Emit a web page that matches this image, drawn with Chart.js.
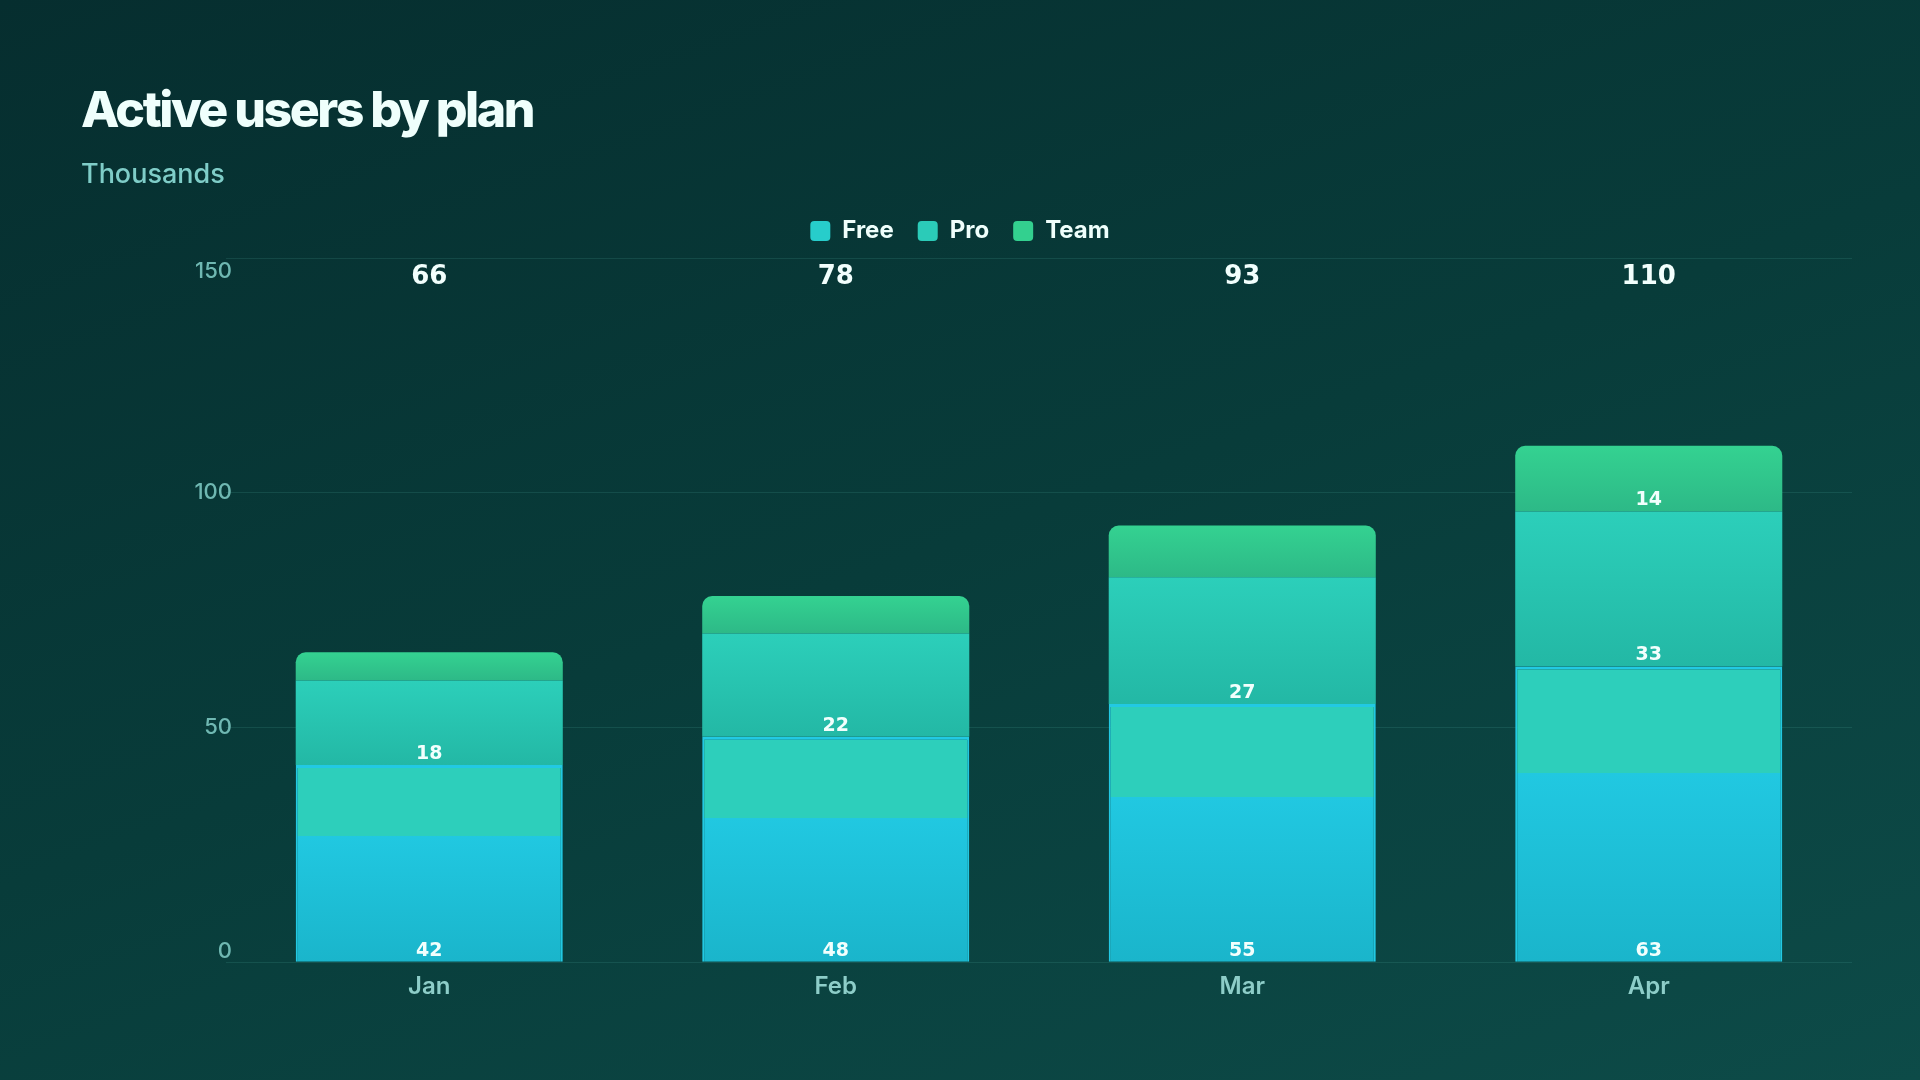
<!DOCTYPE html>
<html>
<head>
<meta charset="utf-8">
<title>Active users by plan</title>
<script src="https://cdn.jsdelivr.net/npm/chart.js@4.4.1/dist/chart.umd.min.js"></script>
<style>
  html, body { margin: 0; padding: 0; }
  body {
    width: 1920px;
    height: 1080px;
    overflow: hidden;
    position: relative;
    background: linear-gradient(160deg, #062e2f 0%, #083c3a 50%, #0d4b48 100%);
  }
  .wrap { position: absolute; left: 0; top: 0; width: 1920px; height: 1080px; }
  .title {
    position: absolute; left: 81px; top: 84px; margin: 0;
    font: 800 50px/1 Inter, sans-serif; color: #effffc; letter-spacing: -0.05em;
  }
  .subtitle {
    position: absolute; left: 81px; top: 160px; margin: 0;
    font: 500 27px/1 Inter, sans-serif; color: #7fcdc8;
  }
</style>
</head>
<body>
<div class="wrap"><canvas id="chart"></canvas></div>
<h1 class="title">Active users by plan</h1>
<div class="subtitle">Thousands</div>
<script>
const months = ["Jan", "Feb", "Mar", "Apr"];
const freeUsers = [42, 48, 55, 63];
const proUsers = [18, 22, 27, 33];
const teamUsers = [6, 8, 11, 14];
const yTicks = [0, 50, 100, 150];

const series = [freeUsers, proUsers, teamUsers];

function stackBase(dsIndex, i) {
  let base = 0;
  for (let d = 0; d < dsIndex; d++) base += series[d][i];
  return base;
}

// gradient runs from the bottom of each segment to its top
function segmentGradient(stops, legendColor) {
  return (ctx) => {
    if (ctx.type !== "data") return legendColor;
    const { chart, datasetIndex, dataIndex } = ctx;
    const y = chart.scales.y;
    if (!y || !chart.chartArea) return legendColor;
    const base = stackBase(datasetIndex, dataIndex);
    const bottom = y.getPixelForValue(base);
    const top = y.getPixelForValue(base + series[datasetIndex][dataIndex]);
    const g = chart.ctx.createLinearGradient(0, bottom, 0, top);
    stops.forEach(([at, color]) => g.addColorStop(at, color));
    return g;
  };
}

// a bit more room between legend and plot
const legendGap = {
  id: "legendGap",
  afterInit(chart) {
    const legend = chart.legend;
    if (!legend) return;
    const fit = legend.fit;
    legend.fit = function () {
      fit.call(this);
      this.height += 5;
    };
  },
};

// y labels, end ones pulled inside the plot
const yTickLabels = {
  id: "yTickLabels",
  afterDraw(chart) {
    const { ctx, chartArea, scales: { y } } = chart;
    ctx.save();
    ctx.font = "500 22px Inter";
    ctx.fillStyle = "#6fb8b2";
    ctx.textAlign = "right";
    ctx.textBaseline = "middle";
    yTicks.forEach((v, i) => {
      let py = y.getPixelForValue(v);
      if (i === 0) py -= 11;
      if (i === yTicks.length - 1) py += 13;
      ctx.fillText(String(v), chartArea.left + 6, py);
    });
    ctx.restore();
  },
};

// segment values + totals on top
const valueLabels = {
  id: "valueLabels",
  afterDatasetsDraw(chart) {
    const { ctx, chartArea } = chart;
    ctx.save();
    ctx.textAlign = "center";
    ctx.textBaseline = "middle";
    ctx.fillStyle = "#f2fffd";
    ctx.font = "bold 19px 'DejaVu Sans'";
    chart.data.datasets.forEach((ds, d) => {
      chart.getDatasetMeta(d).data.forEach((bar, i) => {
        if (bar.base - bar.y < 60) return; // too thin for a label
        ctx.fillText(String(ds.data[i]), bar.x, bar.base - 11);
      });
    });
    ctx.font = "bold 26px 'DejaVu Sans'";
    const topBars = chart.getDatasetMeta(chart.data.datasets.length - 1).data;
    months.forEach((m, i) => {
      const total = series.reduce((sum, arr) => sum + arr[i], 0);
      ctx.fillText(String(total), topBars[i].x, chartArea.top + 19);
    });
    ctx.restore();
  },
};

const legendColors = ["#27cdcb", "#2bcbb8", "#33d08f"];

new Chart(document.getElementById("chart"), {
  type: "bar",
  data: {
    labels: months,
    datasets: [
      {
        label: "Free",
        data: freeUsers,
        backgroundColor: segmentGradient(
          [[0, "#1ab5cb"], [0.64, "#21c8e1"], [0.64, "#2dcfbb"], [1, "#2dcfbb"]],
          legendColors[0]
        ),
        borderColor: "#22c9e3",
        borderWidth: { top: 3, left: 2, right: 2, bottom: 0 },
      },
      {
        label: "Pro",
        data: proUsers,
        backgroundColor: segmentGradient([[0, "#23b8a5"], [1, "#2ccfba"]], legendColors[1]),
        borderWidth: 0,
      },
      {
        label: "Team",
        data: teamUsers,
        backgroundColor: segmentGradient([[0, "#2db987"], [1, "#34d291"]], legendColors[2]),
        borderWidth: 0,
        borderRadius: { topLeft: 10, topRight: 10, bottomLeft: 0, bottomRight: 0 },
      },
    ],
  },
  options: {
    responsive: true,
    maintainAspectRatio: false,
    animation: false,
    layout: { padding: { top: 195, left: 68, right: 68, bottom: 69 } },
    datasets: { bar: { categoryPercentage: 0.657, barPercentage: 1 } },
    scales: {
      x: {
        stacked: true,
        grid: { display: false, drawTicks: false },
        border: { display: false },
        ticks: { color: "#8dcdc8", font: { family: "Inter", size: 24, weight: "600" }, padding: 10 },
      },
      y: {
        stacked: true,
        min: 0,
        max: 150,
        ticks: { stepSize: 50, display: false },
        grid: { color: "rgba(98, 200, 185, 0.14)", drawTicks: false },
        border: { display: false },
        afterFit(scale) {
          scale.width = 158; // room for the hand-drawn labels
        },
      },
    },
    plugins: {
      legend: {
        position: "top",
        labels: {
          color: "#effffc",
          font: { family: "Inter", size: 24, weight: "700" },
          boxWidth: 20,
          boxHeight: 20,
          padding: 24,
          useBorderRadius: true,
          borderRadius: 4,
          generateLabels(chart) {
            const items = Chart.defaults.plugins.legend.labels.generateLabels(chart);
            items.forEach((item, i) => {
              item.fillStyle = legendColors[i];
              item.lineWidth = 0;
              item.strokeStyle = "transparent";
            });
            return items;
          },
        },
      },
      tooltip: { enabled: false },
    },
  },
  plugins: [legendGap, yTickLabels, valueLabels],
});
</script>
</body>
</html>
